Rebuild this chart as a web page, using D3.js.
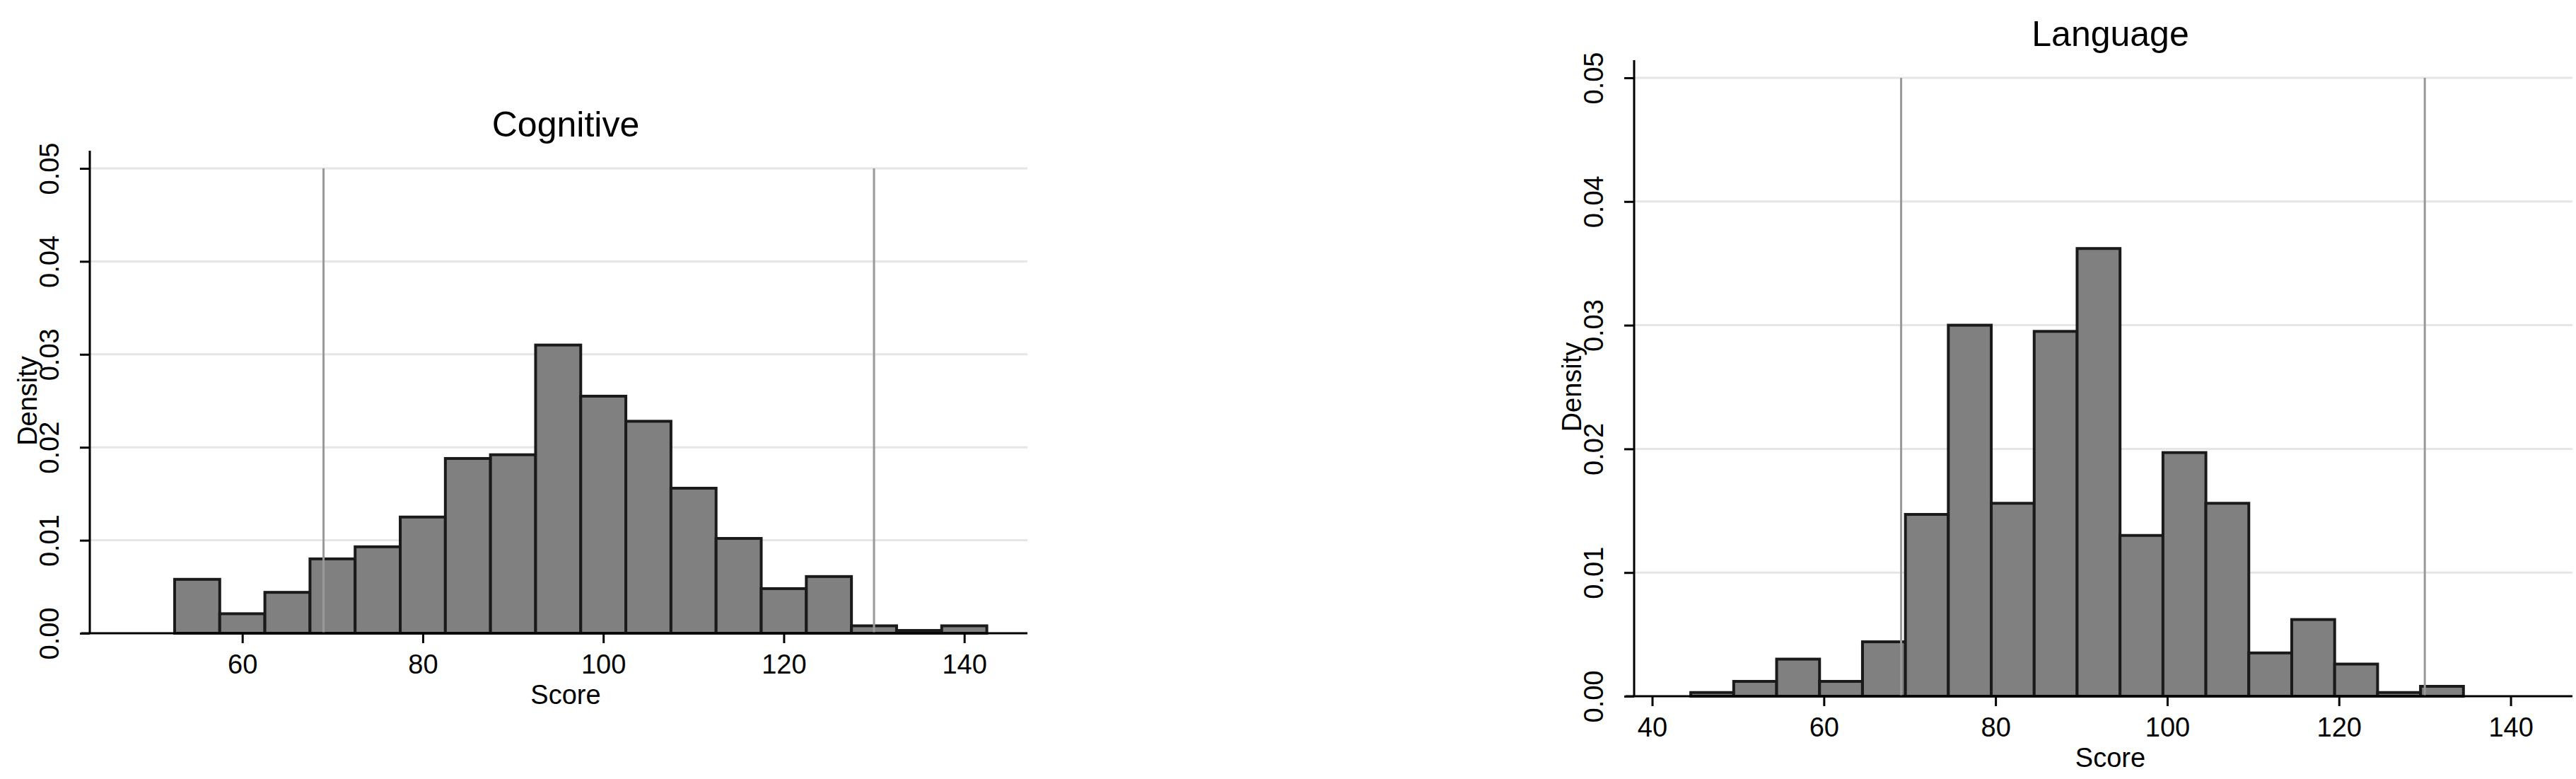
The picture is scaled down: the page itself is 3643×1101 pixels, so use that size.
<!DOCTYPE html>
<html>
<head>
<meta charset="utf-8">
<script src="https://cdn.jsdelivr.net/npm/d3@7"></script>
<style>
  body { margin: 0; background: #fff; }
  text { font-family: "Liberation Sans", Arial, sans-serif; }
</style>
</head>
<body>
<svg id="chart" width="3643" height="1101"></svg>
<script>
// bin edges (start, width) and densities
var binWidth = 5;
var cogStart = 52.5;
var cogDensity = [0.0058, 0.0021, 0.0044, 0.0080, 0.0093, 0.0125, 0.0188, 0.0192, 0.0310,
                  0.0255, 0.0228, 0.0156, 0.0102, 0.0048, 0.0061, 0.0008, 0.0003, 0.0008];
var langStart = 44.5;
var langDensity = [0.0003, 0.0012, 0.0030, 0.0012, 0.0044, 0.0147, 0.0300, 0.0156, 0.0295,
                   0.0362, 0.0130, 0.0197, 0.0156, 0.0035, 0.0062, 0.0026, 0.0003, 0.0008];
var refLines = [69, 130];
var yTicks = [0, 0.01, 0.02, 0.03, 0.04, 0.05];
var cogTicks = [60, 80, 100, 120, 140];
var langTicks = [40, 60, 80, 100, 120, 140];

var svg = d3.select("#chart");

// draw one histogram panel
function drawPanel(p) {
    var g = svg.append("g");
    var x = d3.scaleLinear().domain(p.xDomain).range([p.left, p.right]);
    var y = d3.scaleLinear().domain([0, 0.05]).range([p.bottom, p.top]);

    // gridlines
    g.selectAll(".grid").data(yTicks.slice(1)).enter().append("line")
        .attr("x1", p.left).attr("x2", p.right)
        .attr("y1", d => y(d)).attr("y2", d => y(d))
        .attr("stroke", "#e6e6e6").attr("stroke-width", 3);

    // bars
    var bins = p.density.map((d, i) => ({ x0: p.start + i * binWidth, v: d }));
    g.selectAll(".bar").data(bins).enter().append("rect")
        .attr("x", d => x(d.x0))
        .attr("y", d => y(d.v))
        .attr("width", d => x(d.x0 + binWidth) - x(d.x0))
        .attr("height", d => y(0) - y(d.v))
        .attr("fill", "#808080")
        .attr("stroke", "#1a1a1a")
        .attr("stroke-width", 4);

    // reference lines
    g.selectAll(".ref").data(refLines).enter().append("line")
        .attr("x1", d => x(d)).attr("x2", d => x(d))
        .attr("y1", y(0.05)).attr("y2", y(0))
        .attr("stroke", "#999").attr("stroke-width", 3);

    // x axis
    var xa = g.append("g")
        .attr("transform", `translate(0,${p.bottom})`)
        .call(d3.axisBottom(x).tickValues(p.xTicks).tickSize(14).tickSizeOuter(0));
    xa.select(".domain").attr("stroke-width", 3)
        .attr("d", `M${p.left - 12},0H${p.right}`);
    xa.selectAll(".tick line").attr("stroke-width", 3);
    xa.selectAll("text").style("font-size", "38px").attr("dy", "1.05em");

    // y axis
    var ya = g.append("g")
        .attr("transform", `translate(${p.left},0)`)
        .call(d3.axisLeft(y).tickValues(yTicks).tickFormat(d3.format(".2f")).tickSize(14).tickSizeOuter(0));
    ya.select(".domain").attr("stroke-width", 3)
        .attr("d", `M0,${p.top - 25}V${p.bottom}`);
    ya.selectAll(".tick line").attr("stroke-width", 3);
    ya.selectAll("text")
        .style("font-size", "38px")
        .attr("text-anchor", "middle")
        .attr("x", 0).attr("dy", 0)
        .attr("transform", "translate(-44,0) rotate(-90)");

    // labels
    g.append("text")
        .attr("x", (p.left + p.right) / 2 + 10).attr("y", p.top - 45)
        .attr("text-anchor", "middle").style("font-size", "50px")
        .text(p.title);
    g.append("text")
        .attr("x", (p.left + p.right) / 2 + 10).attr("y", p.bottom + 100)
        .attr("text-anchor", "middle").style("font-size", "38px")
        .text("Score");
    g.append("text")
        .attr("transform", `translate(${p.left - 75},${(p.top + p.bottom) / 2}) rotate(-90)`)
        .attr("text-anchor", "middle").style("font-size", "38px")
        .text("Density");
}

drawPanel({ title: "Cognitive", left: 127, right: 1453, top: 238, bottom: 895,
            xDomain: [43.1, 147], start: cogStart, density: cogDensity, xTicks: cogTicks });
drawPanel({ title: "Language", left: 2311, right: 3638, top: 110, bottom: 984,
            xDomain: [37.9, 147.2], start: langStart, density: langDensity, xTicks: langTicks });
</script>
</body>
</html>
